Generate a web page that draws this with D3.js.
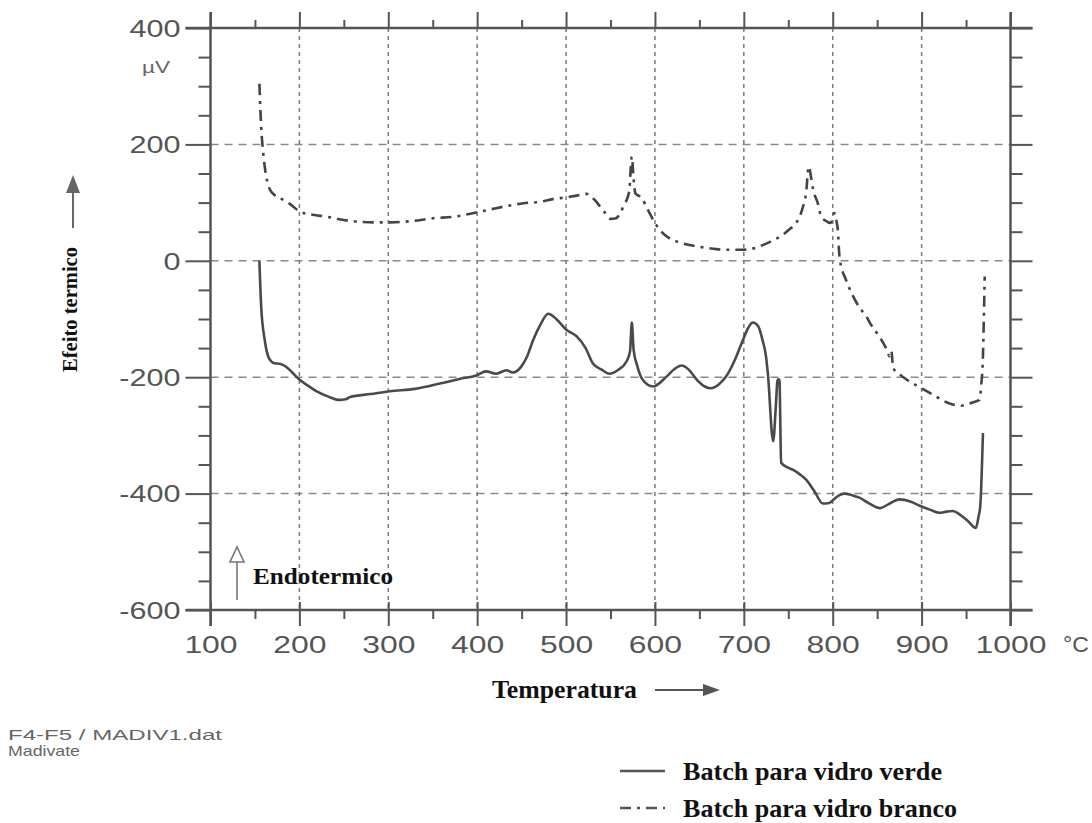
<!DOCTYPE html>
<html><head><meta charset="utf-8">
<script src="https://cdn.jsdelivr.net/npm/d3@7"></script>
<style>body{margin:0;background:#fff}svg{display:block}</style>
</head><body><svg id="c" width="1092" height="823"></svg>
<script>
// ---- data ----
const xTickValues = [100,200,300,400,500,600,700,800,900,1000];
const yTickValues = [400,200,0,-200,-400,-600];
const xGridValues = [200,300,400,500,600,700,800,900];
const yGridValues = [200,0,-200,-400];

const verdeTemp = [155,157,161,166,172,178,185,192,200,210,219,232,245,252,257,280,302,330,358,380,399,410,421,433,440,450,456,463,471,480,489,500,512,522,530,540,549,558,568,572,574,576,580,586,598,613,622,630,638,647,656,663,672,680,690,699,705,710,716,721,725,727,733,736,738,740,742,748,755,763,770,779,789,796,805,813,822,830,840,853,863,875,888,898,910,920,928,935,943,952,961,964,966,969];
const verdeVal  = [0,-78,-136,-168,-176,-177,-182,-192,-204,-215,-224,-233,-239,-238,-234,-229,-224,-220,-211,-203,-197,-190,-194,-188,-192,-181,-165,-136,-110,-91,-100,-118,-130,-150,-176,-187,-194,-188,-173,-155,-106,-153,-180,-204,-216,-199,-186,-180,-187,-204,-216,-219,-212,-199,-170,-136,-115,-106,-112,-136,-165,-193,-310,-250,-204,-204,-347,-354,-359,-367,-376,-395,-417,-416,-405,-400,-403,-407,-416,-425,-418,-410,-414,-421,-428,-433,-431,-430,-436,-447,-459,-440,-421,-296];

const brancoTemp = [155,157,159,161,164,167,172,178,190,200,215,230,250,268,290,302,325,350,375,399,420,440,452,470,485,500,512,523,532,543,550,556,565,571,574,576,578,585,592,600,613,625,639,655,669,685,699,710,718,730,744,752,759,766,770,773,776,778,783,787,793,797,800,802,804,806,807,808,815,823,830,838,842,850,860,864,866,868,876,883,895,902,915,925,935,945,950,958,965,967,969,970,971];
const brancoVal  = [304,230,190,162,135,122,113,108,97,85,79,76,70,67,66,66,68,73,76,83,90,96,99,101,106,109,112,115,105,84,72,73,95,119,179,140,116,108,88,65,42,33,27,23,20,19,19,21,25,33,45,55,65,90,116,162,140,122,100,76,68,65,72,82,70,48,19,2,-33,-61,-80,-96,-107,-125,-150,-164,-155,-184,-196,-204,-215,-221,-232,-241,-247,-249,-247,-243,-239,-215,-164,-100,-27];

const legendLabels = ["Batch para vidro verde","Batch para vidro branco"];

// ---- drawing ----
const svg = d3.select("#c");
const x = d3.scaleLinear().domain([100,1000]).range([210.5,1010.5]);
const y = d3.scaleLinear().domain([-600,400]).range([610,28]);
const AX = "#555";
const sans = "'Liberation Sans', Arial, sans-serif";
const serif = "'Liberation Serif', 'Times New Roman', serif";
const fmt = d => String(d);
const DASHDOT = "11,6,3,6";

// grid
svg.append("g").selectAll("line").data(yGridValues).join("line")
  .attr("x1", x(100)).attr("x2", x(1000)).attr("y1", d=>y(d)).attr("y2", d=>y(d))
  .attr("stroke","#8a8a8a").attr("stroke-width",1.5).attr("stroke-dasharray","8,6");
svg.append("g").selectAll("line").data(xGridValues).join("line")
  .attr("x1", d=>x(d)).attr("x2", d=>x(d)).attr("y1", y(400)).attr("y2", y(-600))
  .attr("stroke","#7a7a7a").attr("stroke-width",1.5).attr("stroke-dasharray","4,4");

const minorX = d3.range(150,1000,100);
const minorY = d3.range(-550,400,50).filter(v=>v%200!==0);

function styleAxis(g){
  g.select(".domain").remove();
  g.selectAll("line").attr("stroke",AX).attr("stroke-width",2);
}
// left
svg.append("g").attr("transform",`translate(${x(100)},0)`)
  .call(d3.axisLeft(y).tickValues(minorY).tickSize(12).tickFormat("")).call(styleAxis);
const gl = svg.append("g").attr("transform",`translate(${x(100)},0)`)
  .call(d3.axisLeft(y).tickValues(yTickValues).tickSize(25).tickPadding(5).tickFormat(fmt)).call(styleAxis);
gl.selectAll("text").attr("x",0).attr("dy","0.36em")
  .attr("transform","translate(-30,0) scale(1.33,1)")
  .attr("font-family",sans).attr("font-size",23).attr("fill",AX);
// right
svg.append("g").attr("transform",`translate(${x(1000)},0)`)
  .call(d3.axisRight(y).tickValues(minorY).tickSize(12).tickFormat("")).call(styleAxis);
svg.append("g").attr("transform",`translate(${x(1000)},0)`)
  .call(d3.axisRight(y).tickValues(yTickValues).tickSize(22).tickFormat("")).call(styleAxis);
// top
svg.append("g").attr("transform",`translate(0,${y(400)})`)
  .call(d3.axisTop(x).tickValues(minorX).tickSize(8).tickFormat("")).call(styleAxis);
svg.append("g").attr("transform",`translate(0,${y(400)})`)
  .call(d3.axisTop(x).tickValues(xTickValues).tickSize(16).tickFormat("")).call(styleAxis);
// bottom
svg.append("g").attr("transform",`translate(0,${y(-600)})`)
  .call(d3.axisBottom(x).tickValues(minorX).tickSize(9).tickFormat("")).call(styleAxis);
const gb = svg.append("g").attr("transform",`translate(0,${y(-600)})`)
  .call(d3.axisBottom(x).tickValues(xTickValues).tickSize(16).tickFormat(fmt)).call(styleAxis);
gb.selectAll("line").attr("y1",-8);
gb.selectAll("text").attr("y",0).attr("dy",0)
  .attr("transform","translate(0,43) scale(1.33,1)")
  .attr("font-family",sans).attr("font-size",24).attr("fill",AX);

// frame lines
const frame = svg.append("g").attr("stroke",AX).attr("stroke-width",2.5);
frame.append("line").attr("x1",x(100)).attr("x2",x(100)).attr("y1",12).attr("y2",y(-600)+16);
frame.append("line").attr("x1",x(1000)).attr("x2",x(1000)).attr("y1",12).attr("y2",y(-600)+16);
frame.append("line").attr("x1",x(100)-25).attr("x2",x(1000)+22).attr("y1",y(400)).attr("y2",y(400));
frame.append("line").attr("x1",x(100)-25).attr("x2",x(1000)+22).attr("y1",y(-600)).attr("y2",y(-600));

// curves
const line = d3.line().x(d=>x(d[0])).y(d=>y(d[1])).curve(d3.curveMonotoneX);
const verde = verdeTemp.map((t,i)=>[t,verdeVal[i]]);
const branco = brancoTemp.map((t,i)=>[t,brancoVal[i]]);
svg.append("path").datum(branco).attr("d",line).attr("fill","none")
  .attr("stroke","#444").attr("stroke-width",2.6).attr("stroke-dasharray",DASHDOT);
svg.append("path").datum(verde).attr("d",line).attr("fill","none")
  .attr("stroke","#4a4a4a").attr("stroke-width",2.6).attr("stroke-linejoin","round");

// units
svg.append("text").attr("transform","translate(142,73) scale(1.33,1)")
  .attr("font-family",sans).attr("font-size",17).attr("fill","#666").text("µV");
svg.append("text").attr("transform","translate(1063,652) scale(1.05,1)")
  .attr("font-family",sans).attr("font-size",22).attr("fill",AX).text("°C");

// y title
svg.append("text").attr("transform","translate(77,372) rotate(-90)")
  .attr("font-family",serif).attr("font-weight","bold").attr("font-size",20)
  .attr("textLength",125).attr("lengthAdjust","spacingAndGlyphs").attr("fill","#111").text("Efeito termico");
svg.append("line").attr("x1",73).attr("x2",73).attr("y1",228).attr("y2",190).attr("stroke","#666").attr("stroke-width",2);
svg.append("path").attr("d","M73,175 L80,193 L66,193 Z").attr("fill","#666");

// x title
svg.append("text").attr("x",492).attr("y",698)
  .attr("font-family",serif).attr("font-weight","bold").attr("font-size",25)
  .attr("textLength",145).attr("lengthAdjust","spacingAndGlyphs").attr("fill","#111").text("Temperatura");
svg.append("line").attr("x1",655).attr("x2",706).attr("y1",690).attr("y2",690).attr("stroke","#555").attr("stroke-width",2);
svg.append("path").attr("d","M720,690 L703,684 L703,696 Z").attr("fill","#555");

// endotermico
svg.append("text").attr("x",253).attr("y",584)
  .attr("font-family",serif).attr("font-weight","bold").attr("font-size",24)
  .attr("textLength",140).attr("lengthAdjust","spacingAndGlyphs").attr("fill","#111").text("Endotermico");
svg.append("line").attr("x1",237).attr("x2",237).attr("y1",600).attr("y2",561).attr("stroke","#777").attr("stroke-width",1.6);
svg.append("path").attr("d","M237,547 L244,562 L230,562 Z").attr("fill","#fff").attr("stroke","#777").attr("stroke-width",1.6);

// file info
svg.append("text").attr("x",8).attr("y",740)
  .attr("font-family",sans).attr("font-size",15).attr("fill","#666")
  .attr("textLength",214).attr("lengthAdjust","spacingAndGlyphs").text("F4-F5 / MADIV1.dat");
svg.append("text").attr("x",8).attr("y",756)
  .attr("font-family",sans).attr("font-size",15).attr("fill","#666")
  .attr("textLength",72).attr("lengthAdjust","spacingAndGlyphs").text("Madivate");

// legend
const lg = svg.append("g");
const rowsY = [771,808];
lg.selectAll("line").data(legendLabels).join("line")
  .attr("x1",620).attr("x2",665).attr("y1",(d,i)=>rowsY[i]).attr("y2",(d,i)=>rowsY[i])
  .attr("stroke","#555").attr("stroke-width",2.5)
  .attr("stroke-dasharray",(d,i)=>i===0?null:DASHDOT);
lg.selectAll("text").data(legendLabels).join("text")
  .attr("x",683).attr("y",(d,i)=>rowsY[i]+9)
  .attr("font-family",serif).attr("font-weight","bold").attr("font-size",25)
  .attr("textLength",(d,i)=>i===0?259:274).attr("lengthAdjust","spacingAndGlyphs")
  .attr("fill","#111").text(d=>d);
</script></body></html>
